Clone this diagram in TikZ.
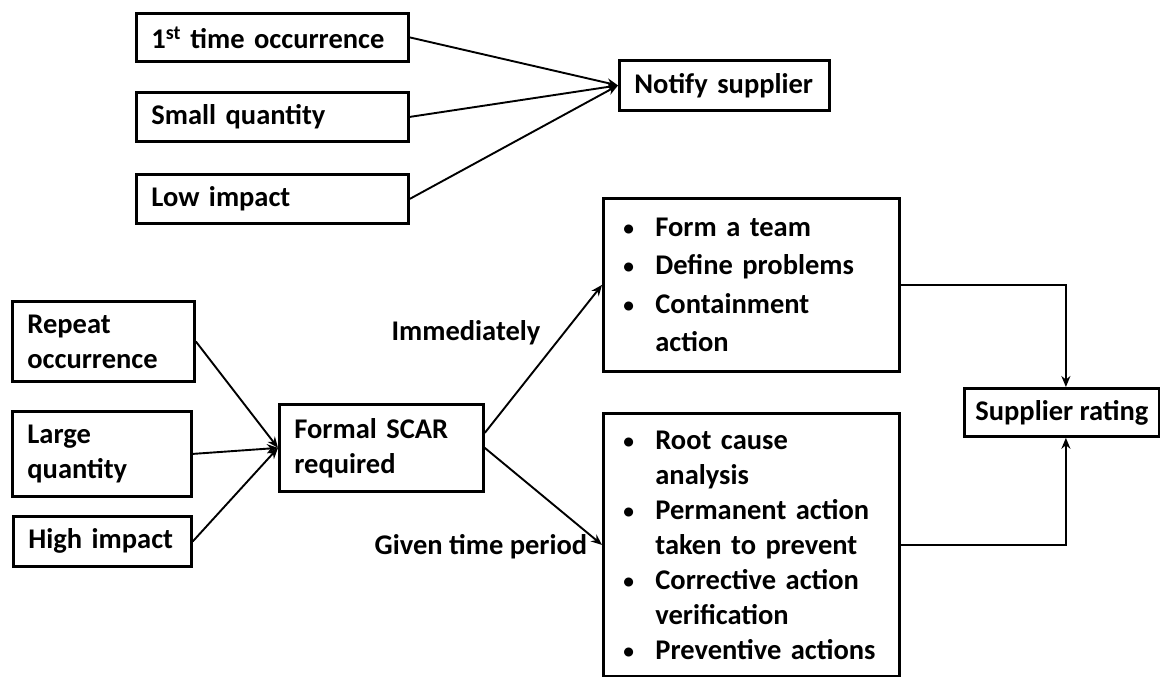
\documentclass[tikz,border=0pt]{standalone}
\usepackage{fontspec}
\setmainfont{Carlito}
\usetikzlibrary{arrows.meta}
% small bullet with a fixed hanging indent
\newcommand\itm{\makebox[32pt][l]{\raisebox{1pt}{\scalebox{0.75}{\textbullet}}}}
\newcommand\hang{\hspace*{32pt}}
\begin{document}
\begin{tikzpicture}[x=1pt,y=-1pt,
  box/.style={draw, line width=2.8pt, anchor=north west, align=left,
    inner xsep=15pt, inner ysep=0pt,
    font=\fontsize{28.5}{35}\selectfont\bfseries},
  listbox/.style={box, inner xsep=20pt},
  lbl/.style={inner sep=0pt, font=\fontsize{28.5}{35}\selectfont\bfseries},
  conn/.style={line width=1.9pt, -{Stealth[length=11pt,width=9pt]}},
]
\useasboundingbox (0,0) rectangle (1160,677);

% minor cases
\node[box, text width=242pt, minimum height=48pt] (first) at (135,12) {1\textsuperscript{st} time occurrence};
\node[box, text width=242pt, minimum height=49pt] (small) at (135,91) {Small quantity};
\node[box, text width=242pt, minimum height=49pt] (low) at (135,173) {Low impact};
\node[box, text width=180pt, minimum height=50pt] (notify) at (618,59) {Notify supplier};

% major cases
\node[box, text width=152pt, minimum height=80pt] (repeat) at (11,300) {Repeat\\occurrence};
\node[box, text width=149pt, minimum height=85pt] (large) at (11,410) {Large\\quantity};
\node[box, text width=148pt, minimum height=50pt] (high) at (12,515) {High impact};
\node[box, text width=174pt, minimum height=87pt] (scar) at (278,403) {Formal SCAR\\required};

% follow-up actions
\node[listbox, text width=256pt, minimum height=173pt,
  font=\fontsize{28.5}{38.5}\selectfont\bfseries] (now) at (602,197)
  {\itm Form a team\\\itm Define problems\\\itm Containment\\\hang action};
\node[listbox, text width=256pt, minimum height=263pt] (later) at (602,412)
  {\itm Root cause\\\hang analysis\\\itm Permanent action\\\hang taken to prevent\\\itm Corrective action\\\hang verification\\\itm Preventive actions};
\node[box, align=center, inner xsep=8pt, minimum width=195pt, minimum height=48pt] (rating) at (963,387) {Supplier rating};

% timing labels
\node[lbl] (immediately) at (466,333) {Immediately};
\node[lbl] (given) at (481,547) {Given time period};

% connectors
\draw[conn] (first.east) -- (notify.west);
\draw[conn] (small.east) -- (notify.west);
\draw[conn] (low.east) -- (notify.west);

\draw[conn] (repeat.east) -- (scar.west);
\draw[conn] (large.east) -- (scar.west);
\draw[conn] (high.east) -- (scar.west);

\coordinate (scarup) at ([yshift=15pt]scar.east);
\draw[conn] (scarup) -- (now.west);
\draw[conn] (scar.east) -- (later.west);

\draw[conn] (now.east) -| ([xshift=4pt]rating.north);
\draw[conn] (later.east) -| ([xshift=4pt]rating.south);
\end{tikzpicture}
\end{document}
